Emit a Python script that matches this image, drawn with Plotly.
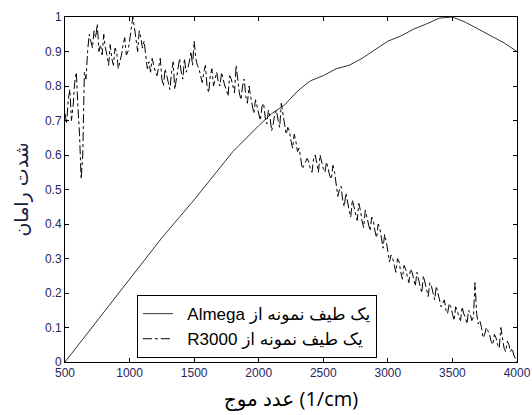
import plotly.graph_objects as go

# Almega spectrum (solid)
almega_x = [500, 750, 1000, 1250, 1500, 1650, 1800, 2000, 2100, 2200, 2300, 2400, 2500,
            2600, 2700, 2800, 2900, 3000, 3100, 3200, 3300, 3400, 3500, 3600, 3700,
            3800, 3900, 4000]
almega_y = [0.0, 0.12, 0.24, 0.36, 0.47, 0.54, 0.61, 0.685, 0.72, 0.745, 0.785, 0.815, 0.83,
            0.85, 0.86, 0.88, 0.905, 0.93, 0.945, 0.965, 0.98, 0.997, 1.0, 0.985, 0.965,
            0.945, 0.925, 0.90]

# R3000 spectrum (dash-dot), noisy: values on a 25 cm^-1 grid (500..4000)
r3000_grid_y = [
    0.72, 0.76, 0.70, 0.81, 0.74, 0.53, 0.84, 0.90, 0.93, 0.96,
    0.98, 0.92, 0.95, 0.89, 0.92, 0.86, 0.90, 0.87, 0.92, 0.89,
    0.93, 1.00, 0.93, 0.96, 0.91, 0.89, 0.87, 0.88, 0.84, 0.86,
    0.82, 0.85, 0.81, 0.84, 0.79, 0.86, 0.84, 0.88, 0.85, 0.90,
    0.93, 0.86, 0.83, 0.84, 0.80, 0.83, 0.80, 0.84, 0.80, 0.82,
    0.79, 0.83, 0.80, 0.86, 0.78, 0.80, 0.77, 0.80, 0.74, 0.76,
    0.72, 0.74, 0.71, 0.73, 0.67, 0.72, 0.70, 0.75, 0.70, 0.68,
    0.64, 0.66, 0.61, 0.59, 0.57, 0.59, 0.56, 0.59, 0.57, 0.60,
    0.56, 0.58, 0.54, 0.57, 0.52, 0.50, 0.47, 0.49, 0.44, 0.47,
    0.43, 0.46, 0.41, 0.44, 0.40, 0.42, 0.38, 0.40, 0.36, 0.37,
    0.32, 0.31, 0.28, 0.30, 0.26, 0.28, 0.25, 0.27, 0.24, 0.26,
    0.22, 0.25, 0.21, 0.23, 0.20, 0.22, 0.18, 0.17, 0.15, 0.17,
    0.14, 0.16, 0.13, 0.16, 0.13, 0.15, 0.12, 0.23, 0.11, 0.10,
    0.08, 0.09, 0.06, 0.08, 0.05, 0.10, 0.04, 0.06, 0.03, 0.02,
    0.00,
]
# R3000 values read between grid points (512.5, 537.5, ... 3987.5)
r3000_mid_y = [
    0.69, 0.79, 0.74, 0.84, 0.66, 0.60, 0.82, 0.95, 0.91, 0.94,
    0.90, 0.89, 0.91, 0.86, 0.88, 0.91, 0.85, 0.89, 0.94, 0.90,
    0.96, 0.97, 0.90, 0.94, 0.93, 0.85, 0.84, 0.86, 0.83, 0.88,
    0.80, 0.83, 0.79, 0.87, 0.82, 0.88, 0.82, 0.84, 0.87, 0.86,
    0.88, 0.85, 0.81, 0.86, 0.78, 0.85, 0.82, 0.81, 0.84, 0.80,
    0.77, 0.82, 0.78, 0.81, 0.76, 0.82, 0.75, 0.77, 0.72, 0.74,
    0.70, 0.75, 0.69, 0.71, 0.69, 0.73, 0.68, 0.72, 0.66, 0.67,
    0.62, 0.64, 0.62, 0.56, 0.58, 0.58, 0.55, 0.60, 0.55, 0.58,
    0.55, 0.56, 0.53, 0.55, 0.48, 0.51, 0.45, 0.46, 0.42, 0.45,
    0.41, 0.44, 0.39, 0.42, 0.38, 0.41, 0.36, 0.39, 0.33, 0.35,
    0.29, 0.30, 0.26, 0.29, 0.24, 0.27, 0.23, 0.26, 0.22, 0.24,
    0.20, 0.23, 0.19, 0.22, 0.18, 0.20, 0.16, 0.18, 0.14, 0.16,
    0.12, 0.15, 0.12, 0.14, 0.11, 0.14, 0.13, 0.14, 0.12, 0.07,
    0.10, 0.08, 0.05, 0.07, 0.04, 0.07, 0.03, 0.05, 0.04, 0.01,
]

x_ticks = [500, 1000, 1500, 2000, 2500, 3000, 3500, 4000]
y_ticks = [0, 0.1, 0.2, 0.3, 0.4, 0.5, 0.6, 0.7, 0.8, 0.9, 1]
y_tick_text = ["0", "0.1", "0.2", "0.3", "0.4", "0.5", "0.6", "0.7", "0.8", "0.9", "1"]

name_almega = "\u00a0\u00a0Almega یک طیف نمونه از"
name_r3000 = "\u00a0\u00a0R3000 یک طیف نمونه از"

# interleave grid and mid readings into one ordered series
r3000_x, r3000_y = [], []
for i, v in enumerate(r3000_grid_y):
    r3000_x.append(500 + 25 * i)
    r3000_y.append(v)
    if i < len(r3000_mid_y):
        r3000_x.append(512.5 + 25 * i)
        r3000_y.append(r3000_mid_y[i])

fig = go.Figure()
fig.add_trace(go.Scatter(x=almega_x, y=almega_y, mode="lines", name=name_almega,
                         line=dict(color="#333333", width=1)))
fig.add_trace(go.Scatter(x=r3000_x, y=r3000_y, mode="lines", name=name_r3000,
                         line=dict(color="black", width=1, dash="dashdot")))

tick_font = dict(family="Arial, Liberation Sans, sans-serif", size=12, color="#262660")
axis_common = dict(showgrid=False, zeroline=False, showline=True, linecolor="black",
                   linewidth=1, mirror="ticks", ticks="inside", ticklen=4,
                   tickcolor="black", tickfont=tick_font, automargin=False)

fig.update_layout(
    width=532, height=415,
    margin=dict(l=65, r=15, t=17, b=53),
    paper_bgcolor="white", plot_bgcolor="white",
    showlegend=True,
    legend=dict(x=0.159, y=0.194, xanchor="left", yanchor="top",
                bgcolor="white", bordercolor="black", borderwidth=1,
                font=dict(family="Arial, DejaVu Sans, sans-serif", size=17, color="black"),
                tracegroupgap=2),
    xaxis=dict(range=[500, 4000], tickvals=x_ticks,
               title=dict(text="عدد موج (1/cm)", standoff=12,
                          font=dict(family="Open Sans, DejaVu Sans, sans-serif", size=20,
                                    color="black")),
               **axis_common),
    yaxis=dict(range=[0, 1], tickvals=y_ticks, ticktext=y_tick_text,
               title=dict(text="شدت رامان", standoff=11,
                          font=dict(family="DejaVu Sans, sans-serif", size=19,
                                    color="#1a1a40")),
               **axis_common),
)

fig.write_html(
    "out.html",
    config={"displayModeBar": False},
    post_script="document.body.style.margin='0';document.body.style.overflow='hidden';",
)
